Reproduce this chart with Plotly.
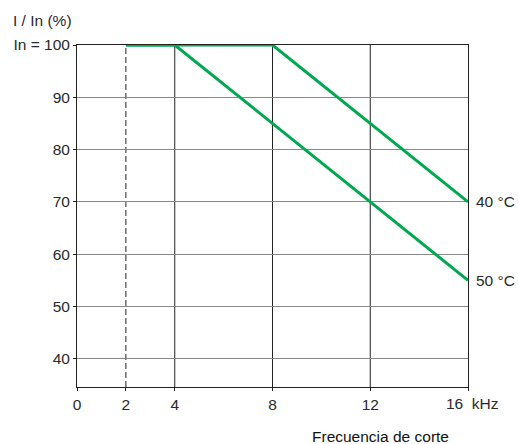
import plotly.graph_objects as go

# Data
freq_40 = [2, 8, 16]
current_40 = [100, 100, 70]
freq_50 = [2, 4, 16]
current_50 = [100, 100, 55]
series_labels = ["40 °C", "50 °C"]
x_ticks = [0, 2, 4, 8, 12, 16]
x_tick_labels = ["0", "2", "4", "8", "12", ""]
y_ticks = [40, 50, 60, 70, 80, 90, 100]
y_tick_labels = ["40", "50", "60", "70", "80", "90", "In = 100"]
vlines_solid = [4, 8, 12]
vline_dashed = 2

GREEN = "#00a94f"
FONT = "Liberation Sans, Arial, sans-serif"
FS = 15.5
TXT = "#2a2a2a"
Y0, Y1 = 34.6, 100

fig = go.Figure()
for xs, ys, name in [(freq_40, current_40, series_labels[0]), (freq_50, current_50, series_labels[1])]:
    fig.add_trace(go.Scatter(x=xs, y=ys, mode="lines", name=name,
                             line=dict(color=GREEN, width=3), showlegend=False))
    fig.add_annotation(x=xs[-1], y=ys[-1], text=name, showarrow=False,
                       xanchor="left", xshift=6, font=dict(size=FS, color=TXT))

for v in vlines_solid:
    fig.add_shape(type="line", x0=v, x1=v, y0=Y0, y1=Y1, xref="x", yref="y",
                  line=dict(color="#222", width=1), layer="below")
fig.add_shape(type="line", x0=vline_dashed, x1=vline_dashed, y0=Y0, y1=Y1,
              xref="x", yref="y", line=dict(color="#222", width=1, dash="6px,3px"), layer="below")

fig.add_annotation(x=16, y=Y0, text="16  kHz", showarrow=False, xanchor="center",
                   yanchor="middle", xshift=4, yshift=-16, font=dict(size=FS, color=TXT))
fig.add_annotation(x=0.777, xref="paper", y=0, yref="paper", text="Frecuencia de corte",
                   showarrow=False, xanchor="center", yanchor="middle", yshift=-49,
                   font=dict(size=FS, color="#111"))
fig.add_annotation(x=-0.17, xref="paper", y=1.0, yref="paper", text="I / In (%)",
                   showarrow=False, xanchor="left", yanchor="middle", yshift=25,
                   font=dict(size=FS, color=TXT))

fig.update_xaxes(range=[0, 16], tickvals=x_ticks, ticktext=x_tick_labels,
                 showgrid=False, zeroline=False, automargin=False,
                 showline=True, linecolor="#222", linewidth=1, mirror=True,
                 ticks="outside", ticklen=3, tickcolor="#222",
                 tickfont=dict(size=FS, color=TXT))
fig.update_yaxes(range=[Y0, Y1], tickvals=y_ticks, ticktext=y_tick_labels,
                 showgrid=True, gridcolor="#888", gridwidth=1, zeroline=False, automargin=False,
                 showline=True, linecolor="#222", linewidth=1, mirror=True,
                 ticks="outside", ticklen=3, tickcolor="#222",
                 tickfont=dict(size=FS, color=TXT))

fig.update_layout(width=518, height=444, margin=dict(l=77, r=50, t=45, b=57, autoexpand=False),
                  plot_bgcolor="white", paper_bgcolor="white",
                  font=dict(family=FONT, size=FS, color=TXT))

fig.write_html("out.html", config={"displayModeBar": False},
               post_script="document.body.style.margin='0';document.body.style.overflow='hidden';")
